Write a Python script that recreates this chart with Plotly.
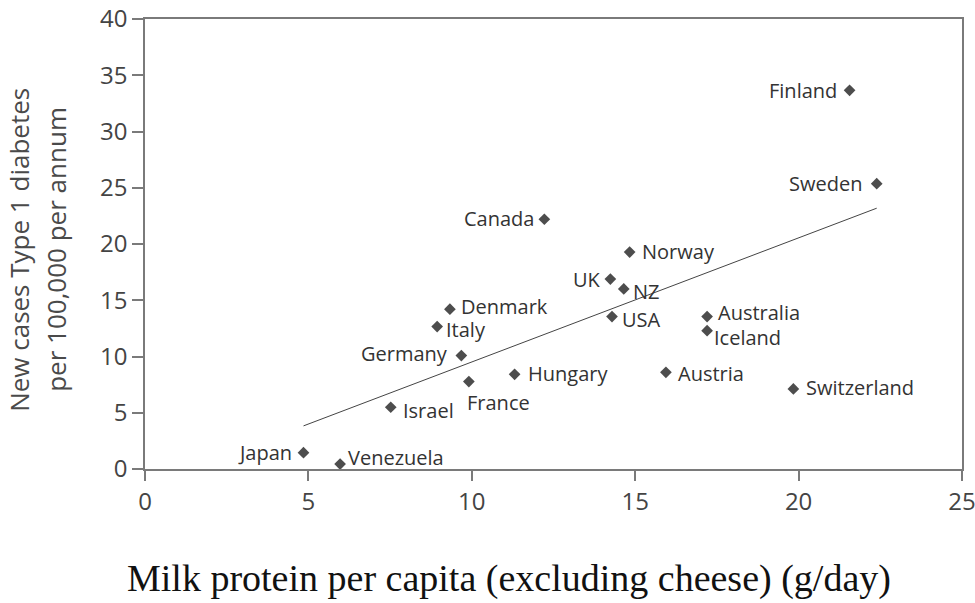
import numpy as np
import plotly.graph_objects as go

# Type 1 diabetes incidence against milk protein consumption, by country
countries = ["Finland", "Sweden", "Canada", "Norway", "UK", "NZ", "USA",
             "Australia", "Iceland", "Austria", "Switzerland", "Denmark",
             "Italy", "Germany", "Hungary", "France", "Israel", "Japan",
             "Venezuela"]
milk_protein = [21.56, 22.39, 12.22, 14.83, 14.24, 14.65, 14.29,
                17.20, 17.20, 15.94, 19.84, 9.33,
                8.94, 9.68, 11.31, 9.91, 7.52, 4.85,
                5.97]
new_cases = [33.66, 25.36, 22.20, 19.28, 16.88, 16.01, 13.55,
             13.55, 12.30, 8.59, 7.12, 14.21,
             12.66, 10.08, 8.42, 7.77, 5.49, 1.45,
             0.44]

x_ticks = [0, 5, 10, 15, 20, 25]
y_ticks = [0, 5, 10, 15, 20, 25, 30, 35, 40]

# label placement per country: (side, x offset px, y offset px)
label_place = {
    "Finland": ("right", -12, 0), "Sweden": ("right", -14, 0),
    "Canada": ("right", -9, 1), "Norway": ("left", 11, 1),
    "UK": ("right", -8, 0), "NZ": ("left", 8, -3),
    "USA": ("left", 9, -3), "Australia": ("left", 10, 4),
    "Iceland": ("left", 6, -7), "Austria": ("left", 11, -1),
    "Switzerland": ("left", 12, 1), "Denmark": ("left", 10, 3),
    "Italy": ("left", 8, -3), "Germany": ("right", -12, 2),
    "Hungary": ("left", 12, 1), "France": ("left", -3, -21),
    "Israel": ("left", 11, -3), "Japan": ("right", -11, 0),
    "Venezuela": ("left", 7, 7),
}

LABEL_FONT = dict(family="Open Sans", size=20, color="#333333")
TICK_FONT = dict(family="Open Sans", size=24, color="#444444")
AXIS_COLOR = "#7a7a7a"

fig = go.Figure()

# least-squares trend line across the observed range
slope, intercept = np.polyfit(milk_protein, new_cases, 1)
x_line = np.array([min(milk_protein), max(milk_protein)])
fig.add_trace(go.Scatter(
    x=x_line, y=slope * x_line + intercept, mode="lines",
    line=dict(color="#444444", width=1), hoverinfo="skip", showlegend=False))

fig.add_trace(go.Scatter(
    x=milk_protein, y=new_cases, mode="markers", text=countries,
    marker=dict(symbol="diamond", size=9, color="#4d4d4d"),
    showlegend=False))

annotations = []
for name, xv, yv in zip(countries, milk_protein, new_cases):
    side, dx, dy = label_place[name]
    annotations.append(dict(
        x=xv, y=yv, xref="x", yref="y", text=name, showarrow=False,
        xanchor=side, yanchor="middle", xshift=dx, yshift=dy,
        borderpad=0, font=LABEL_FONT))

# axis titles
annotations.append(dict(
    x=(509 - 145) / 817, y=-(578 - 469) / 450, xref="paper", yref="paper",
    text="Milk protein per capita (excluding cheese) (g/day)", showarrow=False,
    xanchor="center", yanchor="middle",
    font=dict(family="Liberation Serif", size=38, color="#111111")))
annotations.append(dict(
    x=(19 - 145) / 817, y=0.487, xref="paper", yref="paper",
    text="New cases Type 1 diabetes", showarrow=False, textangle=-90,
    xanchor="center", yanchor="middle",
    font=dict(family="Open Sans", size=26, color="#4a4a4a")))
annotations.append(dict(
    x=(56 - 145) / 817, y=0.487, xref="paper", yref="paper",
    text="per 100,000 per annum", showarrow=False, textangle=-90,
    xanchor="center", yanchor="middle",
    font=dict(family="Open Sans", size=26, color="#4a4a4a")))

fig.update_layout(
    width=975, height=603,
    margin=dict(l=145, r=13, t=19, b=134, autoexpand=False),
    paper_bgcolor="white", plot_bgcolor="white",
    annotations=annotations,
    xaxis=dict(range=[0, 25], tickvals=x_ticks, showgrid=False, zeroline=False,
               showline=True, linecolor=AXIS_COLOR, linewidth=1.5, mirror=True,
               ticks="outside", ticklen=10, tickwidth=1.5, tickcolor=AXIS_COLOR,
               tickfont=TICK_FONT, automargin=False,
               ticklabeloverflow="allow"),
    yaxis=dict(range=[0, 40], tickvals=y_ticks, showgrid=False, zeroline=False,
               showline=True, linecolor=AXIS_COLOR, linewidth=1.5, mirror=True,
               ticks="outside", ticklen=11, tickwidth=1.5, tickcolor=AXIS_COLOR,
               tickfont=TICK_FONT, automargin=False,
               ticklabeloverflow="allow"),
)

fig.write_html("out.html")
